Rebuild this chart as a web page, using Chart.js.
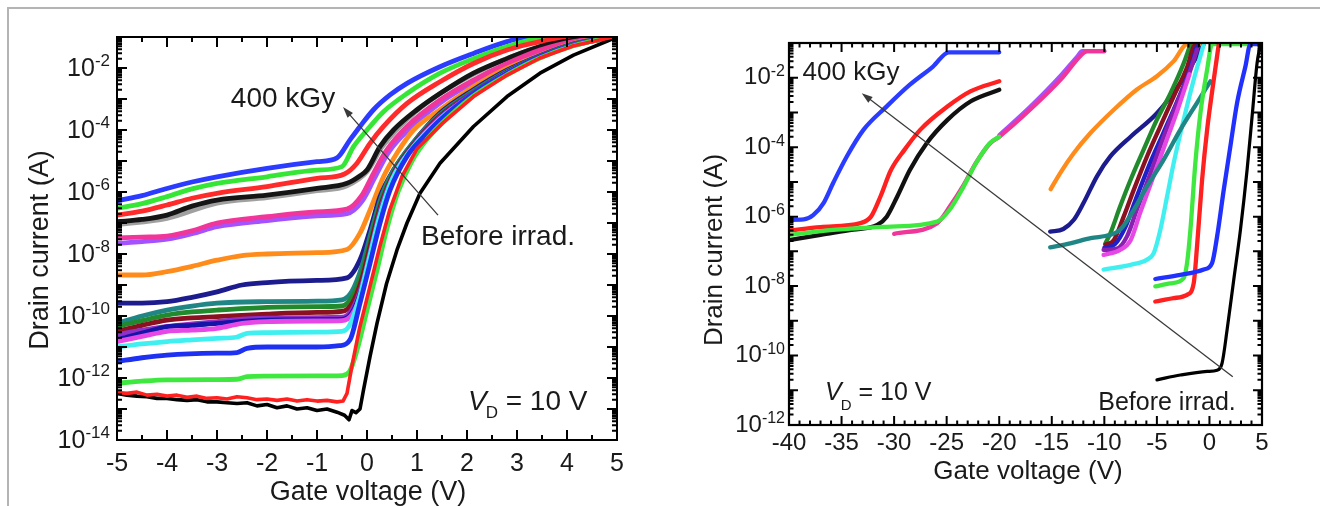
<!DOCTYPE html>
<html><head><meta charset="utf-8">
<script src="https://cdn.jsdelivr.net/npm/chart.js@4.4.1/dist/chart.umd.min.js"></script>
<style>
html,body{margin:0;padding:0;background:#fff;width:1320px;height:506px;overflow:hidden;}
#border{position:absolute;left:7px;top:7px;width:1313px;height:499px;border-left:2px solid #b4b4b4;border-top:2px solid #b4b4b4;box-sizing:border-box;}
.wrap{position:absolute;top:0;width:660px;height:506px;}
canvas{display:block;}
</style></head><body>
<div id="border"></div>
<div class="wrap" style="left:0"><canvas id="c1" width="660" height="506"></canvas></div>
<div class="wrap" style="left:660px"><canvas id="c2" width="660" height="506"></canvas></div>
<script>
// ---------------- LEFT PANEL DATA (gate voltage V, drain current A) ----------------
const L_X_TICKS = [-5,-4,-3,-2,-1,0,1,2,3,4,5];
const L_X_LABELS = ['-5','-4','-3','-2','-1','0','1','2','3','4','5'];
const L_Y_TICKS = [1e-14,1e-12,1e-10,1e-8,1e-6,1e-4,1e-2];
const L_Y_EXPS = ['-14','-12','-10','-8','-6','-4','-2'];

const L_blue1 = [[-5,5.2e-7],[-4.5,7.6e-7],[-4,1.3e-6],[-3.5,2.1e-6],[-3,3.1e-6],[-2,5.8e-6],[-1,9.5e-6],[-0.6,1.26e-5],[-0.34,4.8e-5],[-0.14,1.3e-4],[0.13,4.5e-4],[0.46,1.35e-3],[0.8,3.2e-3],[1.46,1.1e-2],[2.13,2.95e-2],[2.8,7.1e-2],[3.2,1.0e-1],[5,1.07e-1]];
const L_green1 = [[-5,2.95e-7],[-4.5,4.2e-7],[-4,7.1e-7],[-3.5,1.26e-6],[-3,1.9e-6],[-2,3.1e-6],[-1,5.1e-6],[-0.5,6.6e-6],[-0.27,2.9e-5],[0,1.0e-4],[0.33,3.9e-4],[0.8,1.5e-3],[1.46,6.8e-3],[2.13,2.0e-2],[2.8,4.9e-2],[3.46,9.1e-2],[5,1.07e-1]];
const L_red1 = [[-5,1.8e-7],[-4.5,2.4e-7],[-4,3.8e-7],[-3.5,6.3e-7],[-3,9.1e-7],[-2,1.5e-6],[-1,2.75e-6],[-0.45,3.8e-6],[-0.2,8.5e-6],[0.06,3.7e-5],[0.33,1.3e-4],[0.8,7.2e-4],[1.46,3.6e-3],[2.13,1.4e-2],[2.8,3.8e-2],[3.46,7.1e-2],[4.13,9.8e-2],[5,1.07e-1]];
const L_black1 = [[-5,1.1e-7],[-4.5,1.3e-7],[-4,1.8e-7],[-3.5,3.5e-7],[-3,5.5e-7],[-2,7.9e-7],[-1,1.3e-6],[-0.4,1.9e-6],[-0.15,3.2e-6],[0,5.1e-6],[0.26,2.9e-5],[0.53,1.0e-4],[1.0,4.5e-4],[1.46,1.5e-3],[2.13,6.8e-3],[2.8,2.0e-2],[3.46,4.9e-2],[4.13,7.9e-2],[5,1.07e-1]];
const L_gray = [[-5,8.9e-8],[-4,1.4e-7],[-3,4.4e-7],[-2,6.6e-7],[-1,1.1e-6],[-0.4,1.6e-6],[0,4.5e-6],[0.3,2.8e-5],[1.0,4.2e-4],[2.13,6.3e-3],[3.46,4.7e-2],[5,1.07e-1]];
const L_pink = [[-5,3.3e-8],[-4.5,3.5e-8],[-4,3.8e-8],[-3.5,5.6e-8],[-3,1.0e-7],[-2,1.6e-7],[-1,2.3e-7],[-0.4,2.8e-7],[-0.1,7.9e-7],[0.13,4.0e-6],[0.39,2.2e-5],[0.8,1.3e-4],[1.46,9.3e-4],[2.13,4.1e-3],[2.8,1.4e-2],[3.46,3.8e-2],[4.13,7.1e-2],[5,1.07e-1]];
const L_violet = [[-5,2.2e-8],[-4.5,2.5e-8],[-4,3.0e-8],[-3.5,4.5e-8],[-3,7.6e-8],[-2,1.2e-7],[-1,1.7e-7],[-0.4,2.0e-7],[-0.1,5.0e-7],[0.15,2.8e-6],[0.42,1.8e-5],[0.85,1.1e-4],[1.5,8.3e-4],[2.13,3.5e-3],[2.8,1.26e-2],[3.46,3.5e-2],[4.13,6.8e-2],[5,1.07e-1]];
const L_orange = [[-5,2.1e-9],[-4.5,2.1e-9],[-4,2.7e-9],[-3.5,4.0e-9],[-3,6.3e-9],[-2.5,8.9e-9],[-2,1.0e-8],[-1,1.1e-8],[-0.4,1.4e-8],[-0.14,4.7e-8],[0.06,2.6e-7],[0.33,3.1e-6],[0.6,1.8e-5],[0.93,1.0e-4],[1.46,4.5e-4],[2.13,2.5e-3],[2.8,9.8e-3],[3.46,2.6e-2],[4.13,6.3e-2],[5,1.07e-1]];
const L_navy = [[-5,2.6e-10],[-4.5,2.6e-10],[-4,2.9e-10],[-3.5,4.0e-10],[-3,6.0e-10],[-2.5,1.0e-9],[-2,1.2e-9],[-1,1.4e-9],[-0.4,1.7e-9],[-0.14,6.5e-9],[0.06,5.9e-8],[0.26,7.1e-7],[0.53,5.1e-6],[0.9,3.5e-5],[1.46,3.5e-4],[2.13,2.0e-3],[2.8,8.5e-3],[3.46,2.5e-2],[4.13,6.0e-2],[5,1.07e-1]];
const L_teal = [[-5,5.8e-11],[-4.5,1.0e-10],[-4,1.55e-10],[-3.5,2.1e-10],[-3,2.6e-10],[-2,2.9e-10],[-1,3.0e-10],[-0.5,3.3e-10],[-0.3,6.3e-10],[-0.1,4.0e-9],[0.1,6.3e-8],[0.3,7.9e-7],[0.55,5.6e-6],[0.9,3.5e-5],[1.46,3.2e-4],[2.13,1.8e-3],[2.8,7.9e-3],[3.46,2.4e-2],[4.13,5.8e-2],[5,1.07e-1]];
const L_dkgreen = [[-5,4.6e-11],[-4.5,7.1e-11],[-4,1.07e-10],[-3.5,1.35e-10],[-3,1.55e-10],[-2,1.9e-10],[-1,2.0e-10],[-0.5,2.1e-10],[-0.3,4.0e-10],[-0.1,2.5e-9],[0.1,4.5e-8],[0.3,6.3e-7],[0.55,5.0e-6],[0.9,3.2e-5],[1.46,3.0e-4],[2.13,1.7e-3],[2.8,7.6e-3],[3.46,2.3e-2],[4.13,5.6e-2],[5,1.07e-1]];
const L_maroon = [[-5,3.2e-11],[-4.5,5.0e-11],[-4,7.4e-11],[-3.5,8.7e-11],[-3,9.5e-11],[-2,1.15e-10],[-1,1.3e-10],[-0.5,1.4e-10],[-0.3,2.5e-10],[-0.1,1.6e-9],[0.1,3.2e-8],[0.3,5.0e-7],[0.55,4.5e-6],[0.9,3.0e-5],[1.46,2.8e-4],[2.13,1.6e-3],[2.8,7.4e-3],[3.46,2.3e-2],[4.13,5.5e-2],[5,1.07e-1]];
const L_purple = [[-5,2.5e-11],[-4.5,3.5e-11],[-4,4.6e-11],[-3.5,5.6e-11],[-3,6.6e-11],[-2.5,7.9e-11],[-2,8.5e-11],[-1,8.9e-11],[-0.5,9.1e-11],[-0.3,1.6e-10],[-0.1,1.0e-9],[0.1,2.0e-8],[0.3,4.0e-7],[0.55,4.0e-6],[0.9,2.8e-5],[1.46,2.6e-4],[2.13,1.6e-3],[2.8,7.2e-3],[3.46,2.3e-2],[4.13,5.5e-2],[5,1.07e-1]];
const L_navy2 = [[-5,1.7e-11],[-4.5,2.8e-11],[-4,4.5e-11],[-3.5,5.0e-11],[-3,5.8e-11],[-2,7.4e-11],[-1,7.6e-11],[-0.5,7.8e-11],[-0.3,1.26e-10],[-0.1,7.9e-10],[0.1,1.6e-8],[0.3,3.2e-7],[0.55,3.5e-6],[0.9,2.6e-5],[1.46,2.5e-4],[2.13,1.5e-3],[2.8,7.1e-3],[3.46,2.2e-2],[4.13,5.5e-2],[5,1.07e-1]];
const L_magenta = [[-5,1.5e-11],[-4.5,2.2e-11],[-4,3.2e-11],[-3.5,3.5e-11],[-3,4.0e-11],[-2.5,5.8e-11],[-2,6.6e-11],[-1,6.9e-11],[-0.5,7.1e-11],[-0.3,1.1e-10],[-0.1,6.3e-10],[0.1,1.26e-8],[0.3,2.5e-7],[0.55,3.2e-6],[0.9,2.5e-5],[1.46,2.4e-4],[2.13,1.5e-3],[2.8,6.9e-3],[3.46,2.2e-2],[4.13,5.4e-2],[5,1.07e-1]];
const L_cyan = [[-5,1.0e-11],[-4.5,1.26e-11],[-4,1.5e-11],[-3.5,1.7e-11],[-3,1.9e-11],[-2.6,2.1e-11],[-2.4,2.75e-11],[-2,2.9e-11],[-1,3.0e-11],[-0.5,3.2e-11],[-0.35,5.0e-11],[-0.15,4.0e-10],[0.05,7.9e-9],[0.25,1.6e-7],[0.5,2.5e-6],[0.85,2.0e-5],[1.46,2.2e-4],[2.13,1.4e-3],[2.8,6.8e-3],[3.46,2.2e-2],[4.13,5.4e-2],[5,1.07e-1]];
const L_blue2 = [[-5,3.4e-12],[-4.5,4.5e-12],[-4,5.5e-12],[-3,6.3e-12],[-2.6,6.6e-12],[-2.4,9.1e-12],[-2,1.0e-11],[-1,1.0e-11],[-0.55,1.1e-11],[-0.34,1.7e-11],[-0.14,2.6e-10],[0.06,5.0e-9],[0.26,1.0e-7],[0.46,1.15e-6],[0.8,1.4e-5],[1.13,6.0e-5],[1.46,2.1e-4],[2.13,1.5e-3],[2.8,6.8e-3],[3.46,2.3e-2],[4.13,5.5e-2],[5,1.07e-1]];
const L_green2 = [[-5,6.8e-13],[-4.5,7.9e-13],[-4,8.7e-13],[-3,8.9e-13],[-2.6,9.1e-13],[-2.4,1.1e-12],[-2,1.15e-12],[-1,1.17e-12],[-0.5,1.2e-12],[-0.35,1.6e-12],[-0.2,7.9e-12],[0,1.55e-10],[0.2,3.0e-9],[0.39,5.9e-8],[0.62,1.0e-6],[0.9,1.0e-5],[1.2,5.0e-5],[1.5,1.66e-4],[2.13,1.26e-3],[2.8,6.0e-3],[3.46,2.1e-2],[4.13,5.2e-2],[5,1.07e-1]];
const L_red2 = [[-5,3.4e-13],[-4.8,3.2e-13],[-4.6,3.5e-13],[-4.4,2.8e-13],[-4.2,3.0e-13],[-4,2.6e-13],[-3.8,2.8e-13],[-3.6,2.4e-13],[-3.4,2.6e-13],[-3.2,2.2e-13],[-3,2.3e-13],[-2.8,2.1e-13],[-2.6,2.5e-13],[-2.4,2.3e-13],[-2.2,2.0e-13],[-2,2.1e-13],[-1.8,1.9e-13],[-1.6,2.1e-13],[-1.4,1.8e-13],[-1.2,2.0e-13],[-1,1.8e-13],[-0.8,1.9e-13],[-0.6,1.7e-13],[-0.48,1.8e-13],[-0.4,3.2e-13],[-0.3,2.5e-12],[-0.15,4.0e-11],[0.05,7.9e-10],[0.25,1.6e-8],[0.45,2.5e-7],[0.7,3.2e-6],[1.0,2.5e-5],[1.5,1.6e-4],[2.13,1.2e-3],[2.8,5.9e-3],[3.46,2.1e-2],[4.13,5.2e-2],[5,1.07e-1]];
const L_black2 = [[-5,3.2e-13],[-4.8,2.8e-13],[-4.6,2.6e-13],[-4.4,2.5e-13],[-4.2,2.2e-13],[-4,2.2e-13],[-3.8,2.0e-13],[-3.6,1.9e-13],[-3.4,2.0e-13],[-3.2,1.7e-13],[-3,1.7e-13],[-2.8,1.6e-13],[-2.6,1.5e-13],[-2.4,1.6e-13],[-2.2,1.26e-13],[-2,1.4e-13],[-1.8,1.1e-13],[-1.6,1.26e-13],[-1.4,1.0e-13],[-1.2,1.1e-13],[-1,8.9e-14],[-0.8,1.0e-13],[-0.6,7.9e-14],[-0.45,6.3e-14],[-0.36,4.5e-14],[-0.3,8.9e-14],[-0.22,7.6e-14],[-0.14,1.0e-13],[-0.07,4.1e-13],[0.06,4.9e-12],[0.2,5.8e-11],[0.39,1.1e-9],[0.6,1.35e-8],[0.8,1.0e-7],[1.06,9.1e-7],[1.46,8.5e-6],[2.13,1.3e-4],[2.8,1.2e-3],[3.46,6.8e-3],[4.13,2.6e-2],[5,1.0e-1]];

// ---------------- RIGHT PANEL DATA ----------------
const R_X_TICKS = [-40,-35,-30,-25,-20,-15,-10,-5,0,5];
const R_X_LABELS = ['-40','-35','-30','-25','-20','-15','-10','-5','0','5'];
const R_Y_TICKS = [1e-12,1e-10,1e-8,1e-6,1e-4,1e-2];
const R_Y_EXPS = ['-12','-10','-8','-6','-4','-2'];

const R_blue1 = [[-40,8.1e-7],[-38.6,8.3e-7],[-37.7,1.1e-6],[-36.7,2.5e-6],[-35.8,9.3e-6],[-34.5,5.4e-5],[-32.9,3.2e-4],[-30.7,1.5e-3],[-28.5,6.3e-3],[-26.3,2.1e-2],[-24.8,5.4e-2],[-20,5.4e-2]];
const R_red1 = [[-40,4.0e-7],[-37,5.0e-7],[-33.2,6.5e-7],[-32.2,1.0e-6],[-31.3,3.8e-6],[-30.3,2.2e-5],[-29,8.5e-5],[-27.5,3.2e-4],[-24.9,1.5e-3],[-22.7,4.1e-3],[-20,7.9e-3]];
const R_black1 = [[-40,2.1e-7],[-37,3.0e-7],[-33.9,4.2e-7],[-31.6,5.8e-7],[-30.7,1.0e-6],[-29.7,3.8e-6],[-28.5,2.2e-5],[-26.9,1.3e-4],[-24.9,6.2e-4],[-22.7,2.1e-3],[-20,4.5e-3]];
const R_green1 = [[-40,3.0e-7],[-35.5,4.2e-7],[-30.7,5.1e-7],[-25.9,7.2e-7],[-24.7,1.6e-6],[-23.4,7.2e-6],[-22.2,3.5e-5],[-20.9,1.3e-4],[-20,2.0e-4]];
const R_pink = [[-30,3.2e-7],[-25.9,6.5e-7],[-24.7,1.95e-6],[-23.4,7.9e-6],[-22.2,3.6e-5],[-20.9,1.26e-4],[-20,2.0e-4],[-17,1.26e-3],[-14,1.0e-2],[-12.2,4.5e-2],[-11.6,5.8e-2],[-10,5.8e-2]];
const R_violet = [[-20,2.2e-4],[-17.1,1.4e-3],[-14.2,1.1e-2],[-12.6,4.0e-2],[-12.1,5.8e-2],[-10,5.8e-2]];
const R_orange = [[-15.1,6.2e-6],[-14.2,1.8e-5],[-12.9,6.8e-5],[-11.3,2.6e-4],[-9.1,1.2e-3],[-6.9,4.6e-3],[-5,1.1e-2],[-3.4,3.0e-2],[-2.1,9.3e-2],[-1.0,9.3e-2]];
const R_navy = [[-15.15,3.7e-7],[-13.9,4.4e-7],[-12.9,8.1e-7],[-11.97,2.5e-6],[-10.7,1.45e-5],[-9.43,5.4e-5],[-7.5,2.0e-4],[-5,9.5e-4],[-2.76,7.1e-3],[-1.18,4.2e-2],[-0.54,9.3e-2]];
const R_teal = [[-15.15,1.3e-7],[-13.24,1.7e-7],[-11.3,2.4e-7],[-9.43,3.0e-7],[-8.5,4.2e-7],[-7.5,1.1e-6],[-5.94,7.4e-6],[-4.35,4.4e-5],[-2.76,3.2e-4],[-1.18,1.9e-3],[0.09,7.9e-3]];
const R_dkgreen = [[-9.9,1.7e-7],[-9.43,3.3e-7],[-8.5,1.95e-6],[-7.5,1.15e-5],[-6.26,8.5e-5],[-5.0,6.2e-4],[-3.7,3.6e-3],[-2.45,2.6e-2],[-1.8,9.3e-2]];
const R_maroon = [[-9.9,1.55e-7],[-9.1,2.1e-7],[-8.16,1.0e-6],[-7.2,5.9e-6],[-5.94,5.4e-5],[-4.67,4.0e-4],[-3.4,2.9e-3],[-2.1,2.1e-2],[-1.5,7.9e-2],[-1.2,9.3e-2]];
const R_blue3 = [[-10,1.26e-7],[-9,1.6e-7],[-8.0,5.0e-7],[-7.0,3.2e-6],[-5.7,3.2e-5],[-4.4,2.5e-4],[-3.1,2.0e-3],[-1.9,1.6e-2],[-1.2,7.9e-2]];
const R_purple = [[-10.07,1.1e-7],[-8.8,1.2e-7],[-7.84,2.7e-7],[-6.9,1.6e-6],[-5.6,1.8e-5],[-4.35,2.0e-4],[-3.08,1.9e-3],[-1.8,1.7e-2],[-1.18,6.5e-2]];
const R_magenta = [[-10.07,7.9e-8],[-8.5,1.1e-7],[-7.5,2.1e-7],[-6.6,1.26e-6],[-5.4,1.26e-5],[-4.2,1.26e-4],[-3.0,1.26e-3],[-1.9,1.26e-2]];
const R_cyan = [[-10.07,3.0e-8],[-7.5,4.1e-8],[-5.94,5.8e-8],[-5.3,8.9e-8],[-4.67,4.2e-7],[-4.03,3.8e-6],[-3.4,3.5e-5],[-2.45,6.2e-4],[-1.5,8.7e-3],[-0.86,4.2e-2],[-0.54,9.3e-2]];
const R_green2 = [[-5.15,9.8e-9],[-3.72,1.2e-8],[-2.45,1.7e-8],[-2.13,4.6e-8],[-1.81,4.2e-7],[-1.34,3.5e-5],[-0.86,9.5e-4],[-0.22,1.7e-2],[0.25,9.3e-2],[3.6,9.3e-2]];
const R_red2 = [[-5.15,3.6e-9],[-3.4,4.5e-9],[-2.13,5.6e-9],[-1.5,1.2e-8],[-1.18,1.4e-7],[-0.7,1.15e-5],[-0.22,3.2e-4],[0.41,8.7e-3],[0.89,9.3e-2]];
const R_blue2 = [[-5.15,1.6e-8],[-2.76,2.1e-8],[-0.54,3.0e-8],[0.25,4.6e-8],[0.73,2.7e-7],[1.36,5.9e-6],[1.99,1.05e-4],[2.63,1.9e-3],[3.42,2.1e-2],[3.9,9.3e-2],[5,9.3e-2]];
const R_black2 = [[-4.99,2.0e-11],[-2.76,2.75e-11],[-0.22,3.5e-11],[0.73,3.8e-11],[1.2,6.0e-11],[1.68,5.5e-10],[2.31,1.5e-8],[2.95,4.2e-7],[3.58,2.2e-5],[4.06,7.8e-4],[4.53,2.6e-2],[4.85,9.3e-2]];

// ---------------- styles (separate from data) ----------------
const L_SERIES = [L_red2, L_black2, L_green2, L_blue2, L_cyan, L_magenta, L_navy2, L_purple, L_maroon, L_dkgreen, L_teal, L_navy, L_orange, L_pink, L_violet, L_black1, L_gray, L_red1, L_green1, L_blue1];
const L_COLORS = ['#ff2020','#000000','#3fe83f','#1e30f2','#40f0f0','#e648e6','#1414a8','#9030c8','#8b1020','#218a2c','#1f8585','#1c1c8f','#ff8c1a','#f0359b','#a452ff','#151515','#a0a0a0','#ff2a2a','#36e636','#2b3bff'];
const R_SERIES = [R_black2, R_blue2, R_red2, R_green2, R_teal, R_cyan, R_magenta, R_purple, R_blue3, R_maroon, R_dkgreen, R_navy, R_orange, R_green1, R_pink, R_violet, R_red1, R_black1, R_blue1];
const R_COLORS = ['#000000','#2030ff','#ff2020','#3fe83f','#1f8585','#40f0f0','#e648e6','#8a20b0','#2020c8','#8b1020','#218a2c','#1c1c8f','#ff8c1a','#3fe83f','#f0359b','#a452ff','#ff2020','#111111','#2a3cff'];

const FONT = '"Liberation Sans", Arial, Helvetica, sans-serif';

const decoPlugin = {
  id: 'deco',
  afterDatasetsDraw(chart, args, o) {
    const ctx = chart.ctx, a = chart.chartArea, xs = chart.scales.x, ys = chart.scales.y;
    ctx.save();
    // arrow
    const p1 = {x: xs.getPixelForValue(o.arrow.from[0]), y: ys.getPixelForValue(o.arrow.from[1])};
    const p2 = {x: xs.getPixelForValue(o.arrow.to[0]), y: ys.getPixelForValue(o.arrow.to[1])};
    const ang = Math.atan2(p2.y - p1.y, p2.x - p1.x);
    const hl = 11, hw = 3.6;
    ctx.strokeStyle = '#3a3a3a'; ctx.fillStyle = '#3a3a3a'; ctx.lineWidth = 1.3;
    ctx.beginPath(); ctx.moveTo(p1.x, p1.y);
    ctx.lineTo(p2.x - (hl - 2) * Math.cos(ang), p2.y - (hl - 2) * Math.sin(ang)); ctx.stroke();
    ctx.beginPath(); ctx.moveTo(p2.x, p2.y);
    ctx.lineTo(p2.x - hl * Math.cos(ang) - hw * Math.sin(ang), p2.y - hl * Math.sin(ang) + hw * Math.cos(ang));
    ctx.lineTo(p2.x - hl * Math.cos(ang) + hw * Math.sin(ang), p2.y - hl * Math.sin(ang) - hw * Math.cos(ang));
    ctx.closePath(); ctx.fill();

    // frame
    ctx.strokeStyle = '#000'; ctx.lineWidth = o.frameWidth;
    ctx.strokeRect(a.left, a.top, a.right - a.left, a.bottom - a.top);
    // ticks
    ctx.lineWidth = o.tickWidth;
    ctx.beginPath();
    const n = Math.round((o.xMax - o.xMin) / o.xMinor);
    for (let i = 0; i <= n; i++) {
      const v = o.xMin + i * o.xMinor;
      const r = v / o.xMajor;
      const L = Math.abs(r - Math.round(r)) < 1e-6 ? o.majorLen : o.minorLen;
      const px = xs.getPixelForValue(v);
      ctx.moveTo(px, a.bottom); ctx.lineTo(px, a.bottom - L);
      ctx.moveTo(px, a.top); ctx.lineTo(px, a.top + L);
    }
    for (let e = o.yMinExp; e < o.yMaxExp; e++) {
      for (let k = 1; k <= 9; k++) {
        const v = k * Math.pow(10, e);
        const py = ys.getPixelForValue(v);
        const L = k === 1 ? o.majorLen : o.minorLen;
        ctx.moveTo(a.left, py); ctx.lineTo(a.left + L, py);
        ctx.moveTo(a.right, py); ctx.lineTo(a.right - L, py);
      }
    }
    ctx.stroke();

    // tick labels
    ctx.fillStyle = '#1a1a1a';
    ctx.font = o.tickFont + 'px ' + FONT;
    ctx.textAlign = 'center'; ctx.textBaseline = 'middle';
    o.xTicks.forEach((v, i) => ctx.fillText(o.xLabels[i], xs.getPixelForValue(v), o.xLabelY));
    o.yTicks.forEach((v, i) => {
      const py = ys.getPixelForValue(v) + o.yLabelDy;
      ctx.font = o.supFont + 'px ' + FONT;
      const we = ctx.measureText(o.yExps[i]).width;
      ctx.font = o.tickFont + 'px ' + FONT;
      const wb = ctx.measureText('10').width;
      const right = a.left - o.yLabelGap;
      ctx.textAlign = 'left';
      ctx.fillText('10', right - we - wb, py);
      ctx.font = o.supFont + 'px ' + FONT;
      ctx.fillText(o.yExps[i], right - we, py - o.supRaise);
    });

    // axis titles
    ctx.font = o.titleFont + 'px ' + FONT;
    ctx.textAlign = 'center'; ctx.textBaseline = 'middle';
    ctx.fillText('Gate voltage (V)', o.xTitle[0], o.xTitle[1]);
    ctx.save(); ctx.translate(o.yTitle[0], o.yTitle[1]); ctx.rotate(-Math.PI / 2);
    ctx.fillText('Drain current (A)', 0, 0); ctx.restore();

    // annotations
    o.notes.forEach(t => {
      ctx.font = t.size + 'px ' + FONT;
      ctx.textAlign = 'center'; ctx.textBaseline = 'middle';
      ctx.fillText(t.text, t.x, t.y);
    });
    // V_D = 10 V
    const vd = o.vd;
    ctx.textAlign = 'left'; ctx.textBaseline = 'alphabetic';
    ctx.font = 'italic ' + vd.size + 'px ' + FONT;
    ctx.fillText('V', vd.x, vd.y);
    let x = vd.x + ctx.measureText('V').width - 1;
    ctx.font = vd.sub + 'px ' + FONT;
    ctx.fillText('D', x, vd.y + vd.subDy);
    x += ctx.measureText('D').width;
    ctx.font = vd.size + 'px ' + FONT;
    ctx.fillText(' = 10 V', x, vd.y);
    ctx.restore();
  }
};

function makeChart(id, series, colors, widths, noisyCount, xr, yr, pad, deco) {
  return new Chart(document.getElementById(id), {
    type: 'line',
    data: {
      datasets: series.map((s, i) => ({
        data: s.map(p => ({x: p[0], y: p[1]})),
        borderColor: colors[i],
        borderWidth: widths(i),
        pointRadius: 0,
        fill: false,
        tension: 0,
        cubicInterpolationMode: i < noisyCount ? 'default' : 'monotone',
        clip: 0,
        borderCapStyle: 'round',
        borderJoinStyle: 'round'
      }))
    },
    options: {
      responsive: false, animation: false, devicePixelRatio: 1, events: [],
      layout: {padding: pad},
      plugins: {legend: {display: false}, tooltip: {enabled: false}, deco: deco},
      scales: {
        x: {type: 'linear', min: xr[0], max: xr[1], display: false},
        y: {type: 'logarithmic', min: yr[0], max: yr[1], display: false}
      }
    },
    plugins: [decoPlugin]
  });
}

makeChart('c1', L_SERIES, L_COLORS, i => (i < 2 ? 3.6 : 4.8), 2, [-5, 5], [1e-14, 1e-1],
  {left: 117, right: 43, top: 37, bottom: 66},
  {
    arrow: {from: [1.42, 1.8e-7], to: [-0.48, 5.5e-4]},
    frameWidth: 2, tickWidth: 2, majorLen: 10, minorLen: 5,
    xMin: -5, xMax: 5, xMinor: 0.5, xMajor: 1, yMinExp: -14, yMaxExp: -1,
    xTicks: L_X_TICKS, xLabels: L_X_LABELS, yTicks: L_Y_TICKS, yExps: L_Y_EXPS,
    tickFont: 25, supFont: 17, xLabelY: 464, yLabelDy: 1, yLabelGap: 7, supRaise: 8,
    titleFont: 27, xTitle: [368, 493], yTitle: [41, 250],
    notes: [{text: '400 kGy', x: 283, y: 99, size: 28}, {text: 'Before irrad.', x: 498, y: 237, size: 28}],
    vd: {x: 468, y: 410, size: 28, sub: 17, subDy: 8}
  });

makeChart('c2', R_SERIES, R_COLORS, i => (i === 0 ? 3.2 : 4.3), 0, [-40, 5], [1e-12, 1e-1],
  {left: 129, right: 58, top: 43, bottom: 81},
  {
    arrow: {from: [2.22, 2.45e-11], to: [-33.08, 3.6e-3]},
    frameWidth: 2.2, tickWidth: 2, majorLen: 9, minorLen: 4.5,
    xMin: -40, xMax: 5, xMinor: 1, xMajor: 5, yMinExp: -12, yMaxExp: -1,
    xTicks: R_X_TICKS, xLabels: R_X_LABELS, yTicks: R_Y_TICKS, yExps: R_Y_EXPS,
    tickFont: 24, supFont: 16, xLabelY: 443, yLabelDy: 0, yLabelGap: 4, supRaise: 6,
    titleFont: 26, xTitle: [368, 472], yTitle: [55, 250],
    notes: [{text: '400 kGy', x: 191, y: 73, size: 26}, {text: 'Before irrad.', x: 507, y: 403, size: 25}],
    vd: {x: 165, y: 400, size: 25, sub: 15, subDy: 10}
  });
</script>
</body></html>
